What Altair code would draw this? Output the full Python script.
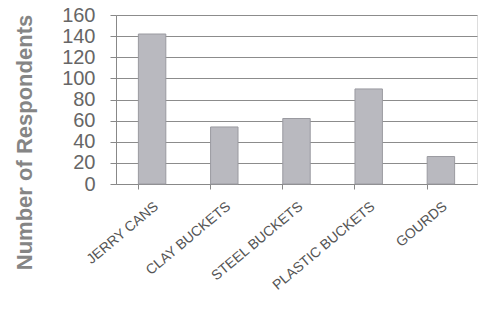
import altair as alt
import pandas as pd

categories = ["JERRY CANS", "CLAY BUCKETS", "STEEL BUCKETS", "PLASTIC BUCKETS", "GOURDS"]
respondents = [142, 54, 62, 90, 26]
y_ticks = [0, 20, 40, 60, 80, 100, 120, 140, 160]

df = pd.DataFrame({"category": categories, "respondents": respondents})

FONT = "Liberation Sans"

bars = alt.Chart(df).mark_bar(
    color="#b9b9bf", stroke="#9a9aa0", strokeWidth=1
).encode(
    x=alt.X("category:N", sort=categories, title=None,
            scale=alt.Scale(paddingInner=0.62, paddingOuter=0.31),
            axis=alt.Axis(labelAngle=-40, labelFontSize=14, labelColor="#555555",
                          labelFont=FONT, labelPadding=10, bandPosition=0,
                          tickSize=5, tickColor="#888888",
                          domainColor="#888888", grid=False)),
    y=alt.Y("respondents:Q", title="Number of Respondents",
            scale=alt.Scale(domain=[0, 160], nice=False),
            axis=alt.Axis(values=y_ticks, labelFontSize=20, labelColor="#666666",
                          labelFont=FONT, labelPadding=15, tickSize=6,
                          tickColor="#888888", domainColor="#888888",
                          gridColor="#8c8c8c", gridWidth=1,
                          titleFont=FONT, titleFontSize=22, titleFontWeight="bold",
                          titleColor="#858585", titleAngle=-90,
                          titleX=-92, titleY=127, titleAlign="center",
                          titleBaseline="middle")),
)

chart = bars.properties(
    width=361, height=169,
    autosize=alt.AutoSizeParams(type="none"),
    padding={"left": 116, "top": 15, "right": 5, "bottom": 143},
).configure_view(stroke=None).configure(background="white")

chart.save("out.html", embed_options={"renderer": "svg", "actions": False})
